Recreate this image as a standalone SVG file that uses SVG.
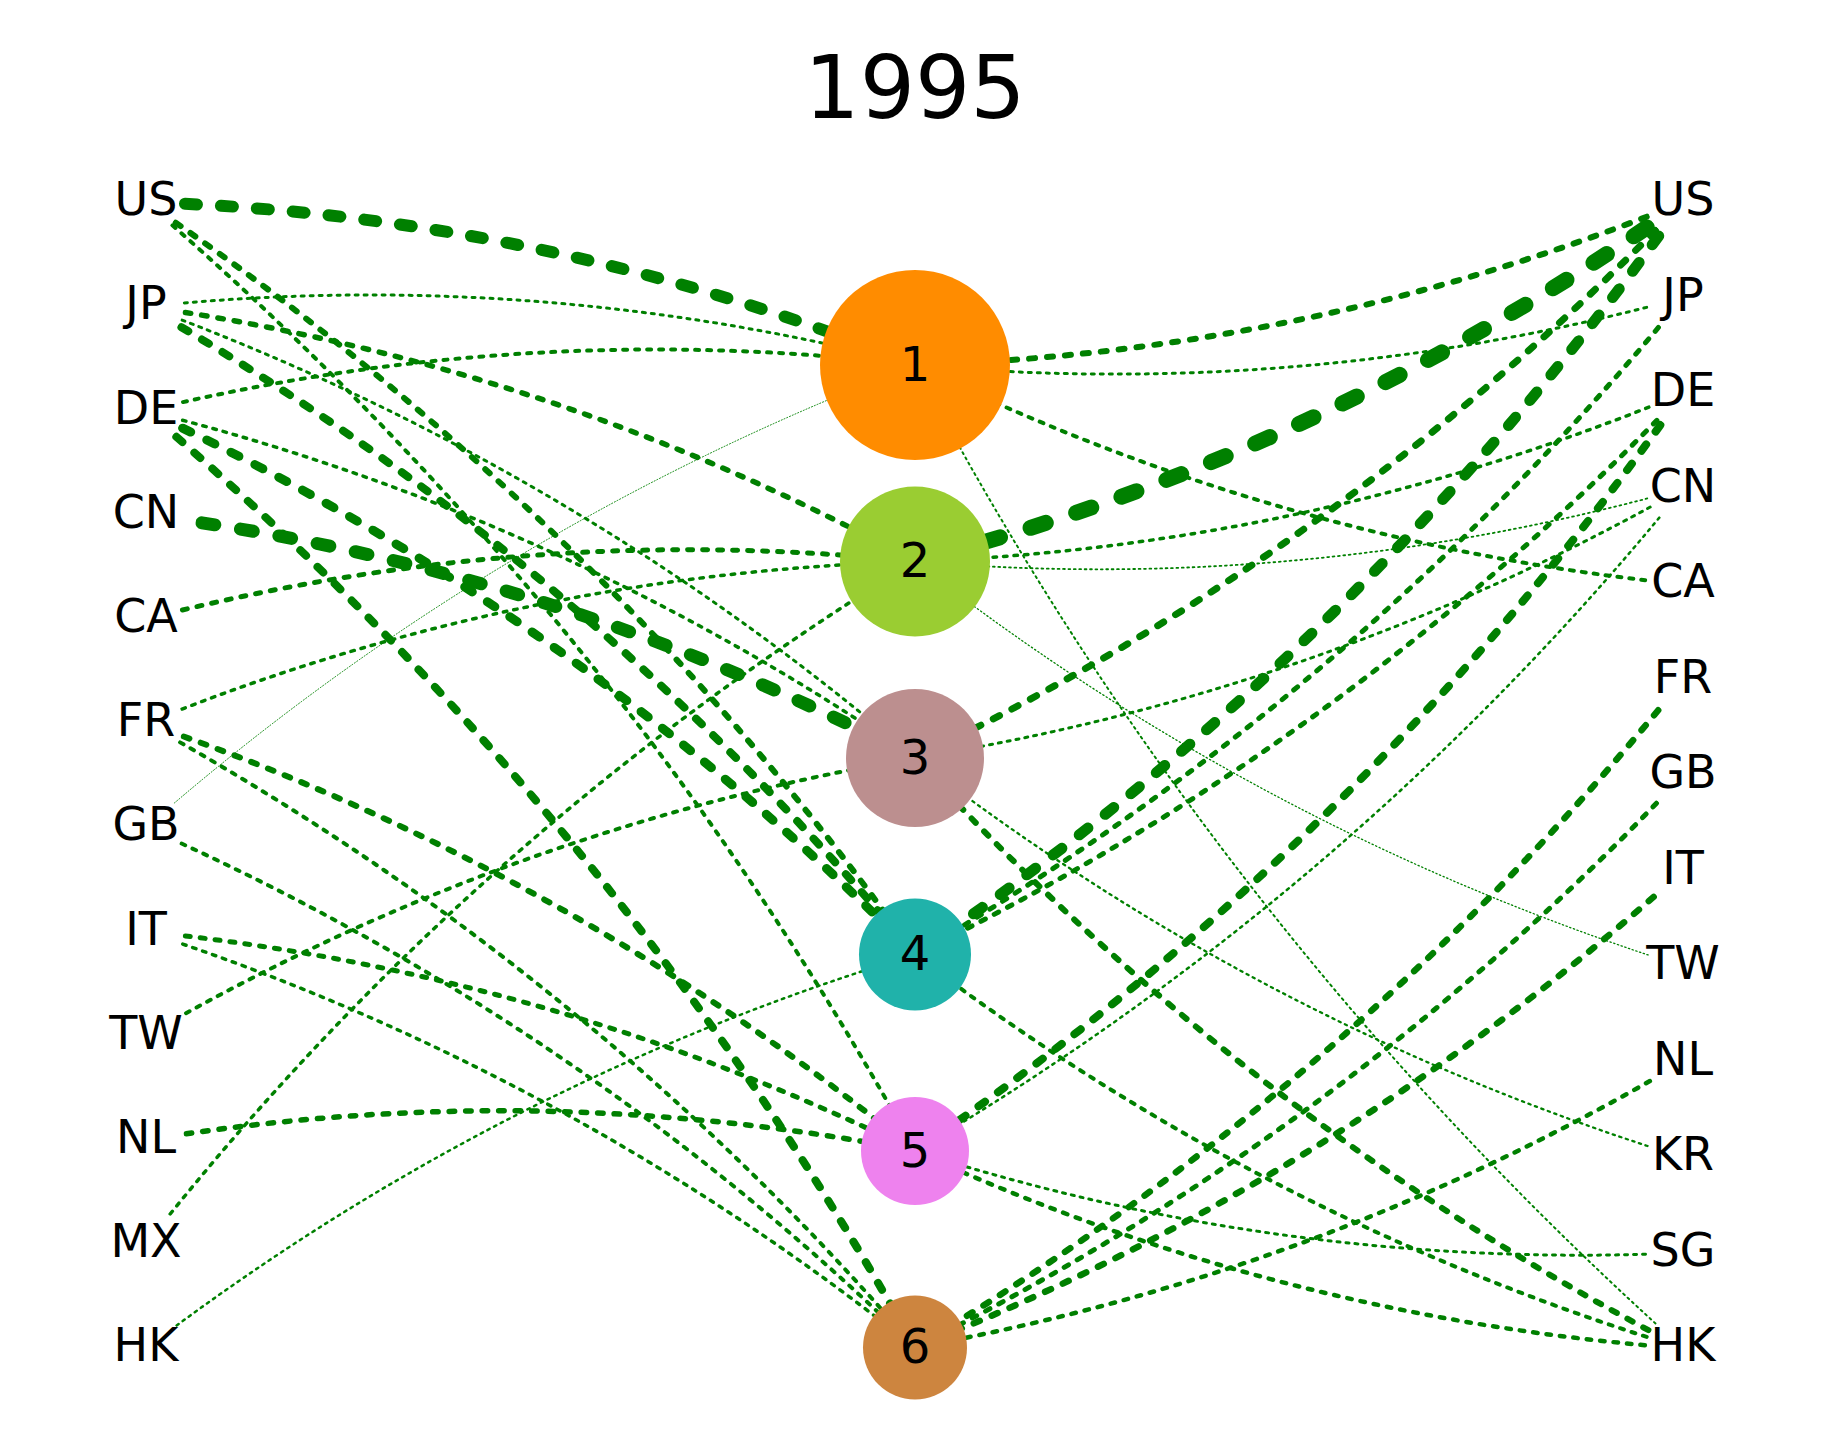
<svg xmlns="http://www.w3.org/2000/svg" width="1829" height="1442" viewBox="0 0 1829 1442">
<style>
text{font-family:"DejaVu Sans","Liberation Sans",sans-serif;fill:#000}
.lab{font-size:46px;text-anchor:middle}
.num{font-size:48px;text-anchor:middle}
.title{font-size:87px;text-anchor:middle}
.e{fill:none;stroke:#008000;stroke-linecap:round}
.w10{stroke-width:1;stroke-dasharray:1 2}
.w13{stroke-width:1.3;stroke-dasharray:1.3 2.6}
.w18{stroke-width:1.8;stroke-dasharray:1.8 3.6}
.w20{stroke-width:2;stroke-dasharray:2 4}
.w23{stroke-width:2.3;stroke-dasharray:2.3 4.6}
.w25{stroke-width:2.5;stroke-dasharray:2.5 5}
.w30{stroke-width:3;stroke-dasharray:3 6}
.w35{stroke-width:3.5;stroke-dasharray:3.5 7}
.w40{stroke-width:4;stroke-dasharray:4 8}
.w45{stroke-width:4.5;stroke-dasharray:4.5 9}
.w50{stroke-width:5;stroke-dasharray:5 10}
.w55{stroke-width:5.5;stroke-dasharray:5.5 11}
.w60{stroke-width:6;stroke-dasharray:6 12}
.w65{stroke-width:6.5;stroke-dasharray:6.5 13}
.w70{stroke-width:7;stroke-dasharray:7 14}
.w80{stroke-width:8;stroke-dasharray:8 16}
.w90{stroke-width:9;stroke-dasharray:9 18}
.w110{stroke-width:11;stroke-dasharray:11 22}
.w120{stroke-width:12;stroke-dasharray:12 24}
.w130{stroke-width:13;stroke-dasharray:13 26}
.w160{stroke-width:16;stroke-dasharray:16 32}
</style>
<defs>
<mask id="shrink" maskUnits="userSpaceOnUse" x="0" y="0" width="1829" height="1442">
<rect x="0" y="0" width="1829" height="1442" fill="#fff"/>
<g fill="#000">
<circle cx="146" cy="202.3" r="33"/>
<circle cx="146" cy="306.5" r="37"/>
<circle cx="146" cy="410.7" r="36"/>
<circle cx="146" cy="514.9" r="50"/>
<circle cx="146" cy="619.1" r="35"/>
<circle cx="146" cy="723.3" r="37"/>
<circle cx="146" cy="827.5" r="37"/>
<circle cx="146" cy="931.7" r="37"/>
<circle cx="146" cy="1035.9" r="44"/>
<circle cx="146" cy="1140.1" r="38"/>
<circle cx="146" cy="1244.3" r="37"/>
<circle cx="146" cy="1348.5" r="37"/>
<circle cx="1683" cy="202.3" r="36"/>
<circle cx="1683" cy="297.8" r="36"/>
<circle cx="1683" cy="393.3" r="35"/>
<circle cx="1683" cy="488.8" r="36"/>
<circle cx="1683" cy="584.3" r="36"/>
<circle cx="1683" cy="679.8" r="36"/>
<circle cx="1683" cy="775.3" r="36"/>
<circle cx="1683" cy="870.8" r="36"/>
<circle cx="1683" cy="966.3" r="36"/>
<circle cx="1683" cy="1061.8" r="36"/>
<circle cx="1683" cy="1157.3" r="36"/>
<circle cx="1683" cy="1252.8" r="36"/>
<circle cx="1683" cy="1348.3" r="36"/>
</g>
</mask>
</defs>
<rect x="0" y="0" width="1829" height="1442" fill="#fff"/>
<text class="title" x="915" y="118">1995</text>
<g id="connectors" mask="url(#shrink)">
<path class="e w120" stroke-dashoffset="-39" d="M146,202.3 Q545.1,214.5 915,365"/>
<path class="e w60" stroke-dashoffset="-36" d="M146,202.3 Q598.2,509.2 915,954.5"/>
<path class="e w40" stroke-dashoffset="-35" d="M146,202.3 Q615.9,607.5 915,1151"/>
<path class="e w30" stroke-dashoffset="-38.5" d="M146,306.5 Q535.8,266.6 915,365"/>
<path class="e w55" stroke-dashoffset="-39.75" d="M146,306.5 Q553.5,364.8 915,561.5"/>
<path class="e w30" stroke-dashoffset="-38.5" d="M146,306.5 Q571.1,463.1 915,758"/>
<path class="e w80" stroke-dashoffset="-41" d="M146,306.5 Q588.8,561.3 915,954.5"/>
<path class="e w40" stroke-dashoffset="-38" d="M146,410.7 Q526.4,318.7 915,365"/>
<path class="e w35" stroke-dashoffset="-37.75" d="M146,410.7 Q561.8,515.2 915,758"/>
<path class="e w90" stroke-dashoffset="-40.5" d="M146,410.7 Q579.4,613.4 915,954.5"/>
<path class="e w80" stroke-dashoffset="-40" d="M146,410.7 Q614.8,809.9 915,1347.5"/>
<path class="e w130" stroke-dashoffset="-56.5" d="M146,514.9 Q552.4,567.3 915,758"/>
<path class="e w50" stroke-dashoffset="-37.5" d="M146,619.1 Q525.3,521.1 915,561.5"/>
<path class="e w35" stroke-dashoffset="-38.75" d="M146,723.3 Q515.9,573.2 915,561.5"/>
<path class="e w60" stroke-dashoffset="-40" d="M146,723.3 Q569,868 915,1151"/>
<path class="e w40" stroke-dashoffset="-39" d="M146,723.3 Q586.7,966.2 915,1347.5"/>
<path class="e w10" stroke-dashoffset="-37.5" d="M146,827.5 Q488.9,527.1 915,365"/>
<path class="e w40" stroke-dashoffset="-39" d="M146,827.5 Q577.3,1018.3 915,1347.5"/>
<path class="e w50" stroke-dashoffset="-39.5" d="M146,931.7 Q550.2,972.2 915,1151"/>
<path class="e w35" stroke-dashoffset="-38.75" d="M146,931.7 Q567.9,1070.4 915,1347.5"/>
<path class="e w40" stroke-dashoffset="-46" d="M146,1035.9 Q505.5,827.8 915,758"/>
<path class="e w55" stroke-dashoffset="-40.75" d="M146,1140.1 Q531.5,1076.4 915,1151"/>
<path class="e w35" stroke-dashoffset="-38.75" d="M146,1244.3 Q469.1,833.7 915,561.5"/>
<path class="e w25" stroke-dashoffset="-38.25" d="M146,1348.5 Q495,1082.3 915,954.5"/>
<path class="e w60" stroke-dashoffset="-39" d="M1683,202.3 Q1313.6,352.8 915,365"/>
<path class="e w160" stroke-dashoffset="-44" d="M1683,202.3 Q1331.3,451 915,561.5"/>
<path class="e w70" stroke-dashoffset="-39.5" d="M1683,202.3 Q1349,549.3 915,758"/>
<path class="e w110" stroke-dashoffset="-41.5" d="M1683,202.3 Q1366.7,647.5 915,954.5"/>
<path class="e w30" stroke-dashoffset="-37.5" d="M1683,297.8 Q1305.1,400.5 915,365"/>
<path class="e w50" stroke-dashoffset="-38.5" d="M1683,297.8 Q1358.1,695.3 915,954.5"/>
<path class="e w35" stroke-dashoffset="-36.75" d="M1683,393.3 Q1314.1,546.5 915,561.5"/>
<path class="e w50" stroke-dashoffset="-37.5" d="M1683,393.3 Q1349.5,743 915,954.5"/>
<path class="e w80" stroke-dashoffset="-39" d="M1683,393.3 Q1367.2,841.3 915,1151"/>
<path class="e w18" stroke-dashoffset="-36.9" d="M1683,488.8 Q1305.5,594.3 915,561.5"/>
<path class="e w30" stroke-dashoffset="-37.5" d="M1683,488.8 Q1323.2,692.5 915,758"/>
<path class="e w25" stroke-dashoffset="-37.25" d="M1683,488.8 Q1358.6,889 915,1151"/>
<path class="e w40" stroke-dashoffset="-38" d="M1683,584.3 Q1279.3,543.8 915,365"/>
<path class="e w65" stroke-dashoffset="-39.25" d="M1683,679.8 Q1359.1,1082.8 915,1347.5"/>
<path class="e w50" stroke-dashoffset="-38.5" d="M1683,775.3 Q1350.5,1130.5 915,1347.5"/>
<path class="e w65" stroke-dashoffset="-39.25" d="M1683,870.8 Q1341.9,1178.3 915,1347.5"/>
<path class="e w13" stroke-dashoffset="-36.65" d="M1683,966.3 Q1262.6,833 915,561.5"/>
<path class="e w45" stroke-dashoffset="-38.25" d="M1683,1061.8 Q1324.7,1273.8 915,1347.5"/>
<path class="e w23" stroke-dashoffset="-37.15" d="M1683,1157.3 Q1263.1,1026.8 915,758"/>
<path class="e w30" stroke-dashoffset="-37.5" d="M1683,1252.8 Q1289.8,1271 915,1151"/>
<path class="e w20" stroke-dashoffset="-37" d="M1683,1348.3 Q1210.5,925.8 915,365"/>
<path class="e w60" stroke-dashoffset="-39" d="M1683,1348.3 Q1245.9,1122.3 915,758"/>
<path class="e w40" stroke-dashoffset="-38" d="M1683,1348.3 Q1263.6,1220.5 915,954.5"/>
<path class="e w45" stroke-dashoffset="-38.25" d="M1683,1348.3 Q1281.2,1318.8 915,1151"/>
</g>
<g id="node-1"><circle cx="915" cy="365" r="95" fill="#ff8c00"/><text class="num" x="915" y="380.5">1</text></g>
<g id="node-2"><circle cx="915" cy="561.5" r="75" fill="#9acd32"/><text class="num" x="915" y="577">2</text></g>
<g id="node-3"><circle cx="915" cy="758" r="69" fill="#bc8f8f"/><text class="num" x="915" y="773.5">3</text></g>
<g id="node-4"><circle cx="915" cy="954.5" r="56" fill="#20b2aa"/><text class="num" x="915" y="970">4</text></g>
<g id="node-5"><circle cx="915" cy="1151" r="54" fill="#ee82ee"/><text class="num" x="915" y="1166.5">5</text></g>
<g id="node-6"><circle cx="915" cy="1347.5" r="52" fill="#cd853f"/><text class="num" x="915" y="1363">6</text></g>
<g id="left-US"><text class="lab" x="146" y="215.1">US</text></g>
<g id="left-JP"><text class="lab" x="146" y="319.3">JP</text></g>
<g id="left-DE"><text class="lab" x="146" y="423.5">DE</text></g>
<g id="left-CN"><text class="lab" x="146" y="527.7">CN</text></g>
<g id="left-CA"><text class="lab" x="146" y="631.9">CA</text></g>
<g id="left-FR"><text class="lab" x="146" y="736.1">FR</text></g>
<g id="left-GB"><text class="lab" x="146" y="840.3">GB</text></g>
<g id="left-IT"><text class="lab" x="146" y="944.5">IT</text></g>
<g id="left-TW"><text class="lab" x="146" y="1048.7">TW</text></g>
<g id="left-NL"><text class="lab" x="146" y="1152.9">NL</text></g>
<g id="left-MX"><text class="lab" x="146" y="1257.1">MX</text></g>
<g id="left-HK"><text class="lab" x="146" y="1361.3">HK</text></g>
<g id="right-US"><text class="lab" x="1683" y="215.1">US</text></g>
<g id="right-JP"><text class="lab" x="1683" y="310.6">JP</text></g>
<g id="right-DE"><text class="lab" x="1683" y="406.1">DE</text></g>
<g id="right-CN"><text class="lab" x="1683" y="501.6">CN</text></g>
<g id="right-CA"><text class="lab" x="1683" y="597.1">CA</text></g>
<g id="right-FR"><text class="lab" x="1683" y="692.6">FR</text></g>
<g id="right-GB"><text class="lab" x="1683" y="788.1">GB</text></g>
<g id="right-IT"><text class="lab" x="1683" y="883.6">IT</text></g>
<g id="right-TW"><text class="lab" x="1683" y="979.1">TW</text></g>
<g id="right-NL"><text class="lab" x="1683" y="1074.6">NL</text></g>
<g id="right-KR"><text class="lab" x="1683" y="1170.1">KR</text></g>
<g id="right-SG"><text class="lab" x="1683" y="1265.6">SG</text></g>
<g id="right-HK"><text class="lab" x="1683" y="1361.1">HK</text></g>
</svg>
